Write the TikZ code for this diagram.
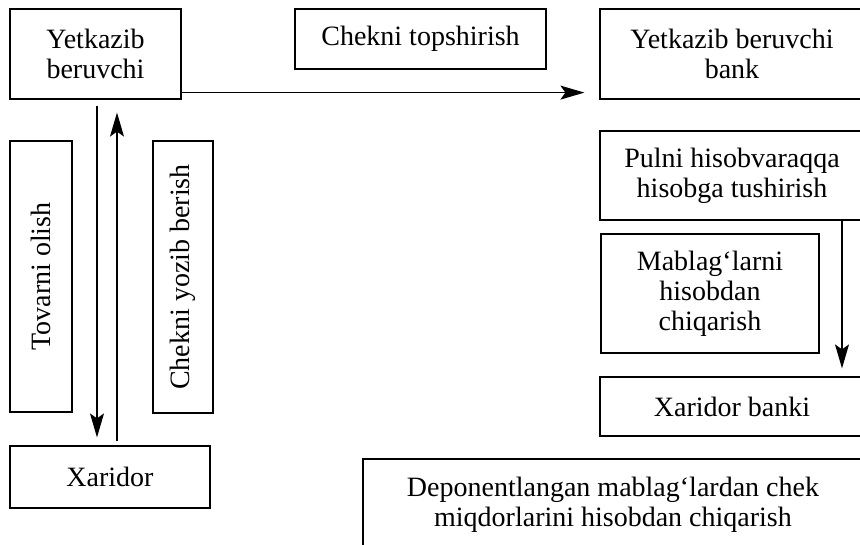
\documentclass[tikz,border=0pt]{standalone}
\usepackage{fontspec}
\setmainfont{Liberation Serif}
\newfontfamily\boxfont{Liberation Serif}
\usetikzlibrary{arrows.meta}
\begin{document}
\begin{tikzpicture}[x=1pt,y=-1pt,line width=1.2pt,
	box/.style={draw,rectangle,align=center,inner sep=0pt,font=\boxfont\fontsize{28}{30}\selectfont},
	arr/.style={-{Stealth[length=24pt,width=14pt,inset=5pt]}}]
	\useasboundingbox (0,0) rectangle (860,545);
	\clip (0,0) rectangle (860,545);
	
	\node [box,minimum width=171pt,minimum height=90pt] at (95.5,54) (sup) {Yetkazib\\beruvchi};
	\node [box,minimum width=251pt,minimum height=60pt] at (420.5,39) (chk) {Chekni topshirish};
	\node [box,minimum width=264pt,minimum height=90pt] at (732,54) (supbank) {Yetkazib beruvchi\\bank};
	
	\node [box,rotate=90,minimum width=271pt,minimum height=62pt] at (41,276.5) (tov) {Tovarni olish};
	\node [box,rotate=90,minimum width=272pt,minimum height=60pt] at (183,277) (yoz) {Chekni yozib berish};
	\node [box,minimum width=200pt,minimum height=62pt] at (110,477) (xar) {Xaridor};
	
	\node [box,minimum width=264pt,minimum height=89pt] at (732,175.5) (pulni) {Pulni hisobvaraqqa\\hisobga tushirish};
	\node [box,minimum width=218pt,minimum height=119pt] at (710,293.5) (mab) {Mablag‘larni\\hisobdan\\chiqarish};
	\node [box,minimum width=264pt,minimum height=59pt] at (732,406.5) (xbank) {Xaridor banki};
	\node [box,minimum width=500pt,minimum height=92pt] at (613,505) (dep) {Deponentlangan mablag‘lardan chek\\miqdorlarini hisobdan chiqarish};
	
	\coordinate (dn) at (97,0);
	\coordinate (up) at (117,0);
	\coordinate (rx) at (842,0);
	
	\draw [arr,shorten >=15pt] ([yshift=7pt]sup.south east) to ([yshift=7pt]sup.south east -| supbank.west);
	\draw [arr,shorten <=6pt,shorten >=8pt] (sup.south -| dn) to (xar.north -| dn);
	\draw [arr,shorten <=4pt,shorten >=13pt] (xar.north -| up) to (sup.south -| up);
	\draw [arr,shorten >=8pt] (pulni.south -| rx) to (xbank.north -| rx);
	
\end{tikzpicture}
\end{document}
